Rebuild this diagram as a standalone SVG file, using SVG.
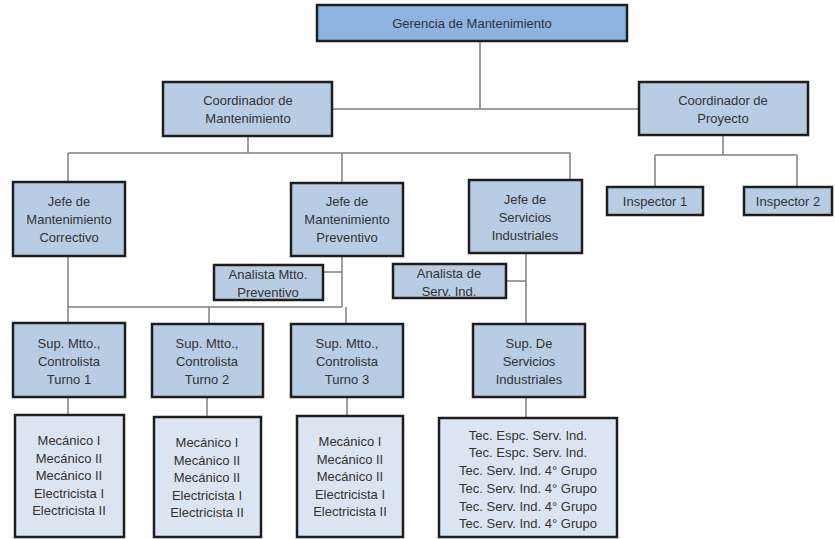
<svg xmlns="http://www.w3.org/2000/svg" width="835" height="539" viewBox="0 0 835 539">
<style>
.b{stroke:#1e1e1e;stroke-width:2.5}
.f1{fill:#8db3e2}
.f2{fill:#b8cce4}
.f3{fill:#dbe5f1}
text{font-family:"Liberation Sans",Arial,sans-serif;font-size:13px;fill:#333;text-anchor:middle;dominant-baseline:central}
#connectors path{fill:none;stroke:#808080;stroke-width:1.5}
</style>
<rect width="835" height="539" fill="#fff"/>
<g id="connectors">
<path d="M480 41V109M332 109H639"/>
<path d="M248 136V153M68 153H570V180M68 153V182M342 153V183"/>
<path d="M723 135V155M655 155H797M655 155V187M797 155V187"/>
<path d="M68 256V307M342 256V307M68 307H342M323 272H342"/>
<path d="M68 307V323M209 307V323M346 307V323"/>
<path d="M526 253V324M506 281H526"/>
<path d="M68 397V415M207 397V417M347 397V416M526 397V418"/>
</g>
<g id="gerencia"><rect class="b f1" x="317" y="5" width="310" height="36"/><text x="472" y="23">Gerencia de Mantenimiento</text></g>
<g id="coord-mant"><rect class="b f2" x="163" y="82" width="169" height="54"/><text x="248" y="100">Coordinador de</text><text x="248" y="118">Mantenimiento</text></g>
<g id="coord-proy"><rect class="b f2" x="639" y="82" width="169" height="53"/><text x="723" y="100">Coordinador de</text><text x="723" y="118">Proyecto</text></g>
<g id="inspector1"><rect class="b f2" x="607" y="187" width="96" height="28"/><text x="655" y="201">Inspector 1</text></g>
<g id="inspector2"><rect class="b f2" x="744" y="187" width="88" height="28"/><text x="788" y="201">Inspector 2</text></g>
<g id="jefe-corr"><rect class="b f2" x="13" y="182" width="112" height="74"/><text x="69" y="201">Jefe de</text><text x="69" y="219">Mantenimiento</text><text x="69" y="237">Correctivo</text></g>
<g id="jefe-prev"><rect class="b f2" x="291" y="183" width="112" height="73"/><text x="347" y="201">Jefe de</text><text x="347" y="219">Mantenimiento</text><text x="347" y="237">Preventivo</text></g>
<g id="jefe-serv"><rect class="b f2" x="469" y="180" width="113" height="73"/><text x="525" y="199">Jefe de</text><text x="525" y="217">Servicios</text><text x="525" y="235">Industriales</text></g>
<g id="analista-prev"><rect class="b f2" x="214" y="265" width="109" height="35"/><text x="268" y="274">Analista Mtto.</text><text x="268" y="292">Preventivo</text></g>
<g id="analista-serv"><rect class="b f2" x="393" y="264" width="113" height="34"/><text x="449" y="273">Analista de</text><text x="449" y="291">Serv. Ind.</text></g>
<g id="sup1"><rect class="b f2" x="13" y="323" width="112" height="74"/><text x="69" y="343">Sup. Mtto.,</text><text x="69" y="361">Controlista</text><text x="69" y="379">Turno 1</text></g>
<g id="sup2"><rect class="b f2" x="152" y="324" width="111" height="73"/><text x="207" y="343">Sup. Mtto.,</text><text x="207" y="361">Controlista</text><text x="207" y="379">Turno 2</text></g>
<g id="sup3"><rect class="b f2" x="291" y="324" width="112" height="73"/><text x="347" y="343">Sup. Mtto.,</text><text x="347" y="361">Controlista</text><text x="347" y="379">Turno 3</text></g>
<g id="sup-serv"><rect class="b f2" x="473" y="324" width="112" height="73"/><text x="529" y="343">Sup. De</text><text x="529" y="361">Servicios</text><text x="529" y="379">Industriales</text></g>
<g id="equipo1"><rect class="b f3" x="15" y="415" width="109" height="122"/><text x="69" y="440">Mecánico I</text><text x="69" y="458">Mecánico II</text><text x="69" y="475">Mecánico II</text><text x="69" y="493">Electricista I</text><text x="69" y="510">Electricista II</text></g>
<g id="equipo2"><rect class="b f3" x="154" y="417" width="107" height="120"/><text x="207" y="442">Mecánico I</text><text x="207" y="460">Mecánico II</text><text x="207" y="477">Mecánico II</text><text x="207" y="495">Electricista I</text><text x="207" y="512">Electricista II</text></g>
<g id="equipo3"><rect class="b f3" x="297" y="416" width="106" height="121"/><text x="350" y="441">Mecánico I</text><text x="350" y="459">Mecánico II</text><text x="350" y="476">Mecánico II</text><text x="350" y="494">Electricista I</text><text x="350" y="511">Electricista II</text></g>
<g id="equipo4"><rect class="b f3" x="439" y="418" width="178" height="119"/><text x="528" y="435">Tec. Espc. Serv. Ind.</text><text x="528" y="452">Tec. Espc. Serv. Ind.</text><text x="528" y="470">Tec. Serv. Ind. 4° Grupo</text><text x="528" y="488">Tec. Serv. Ind. 4° Grupo</text><text x="528" y="506">Tec. Serv. Ind. 4° Grupo</text><text x="528" y="523">Tec. Serv. Ind. 4° Grupo</text></g>
</svg>
